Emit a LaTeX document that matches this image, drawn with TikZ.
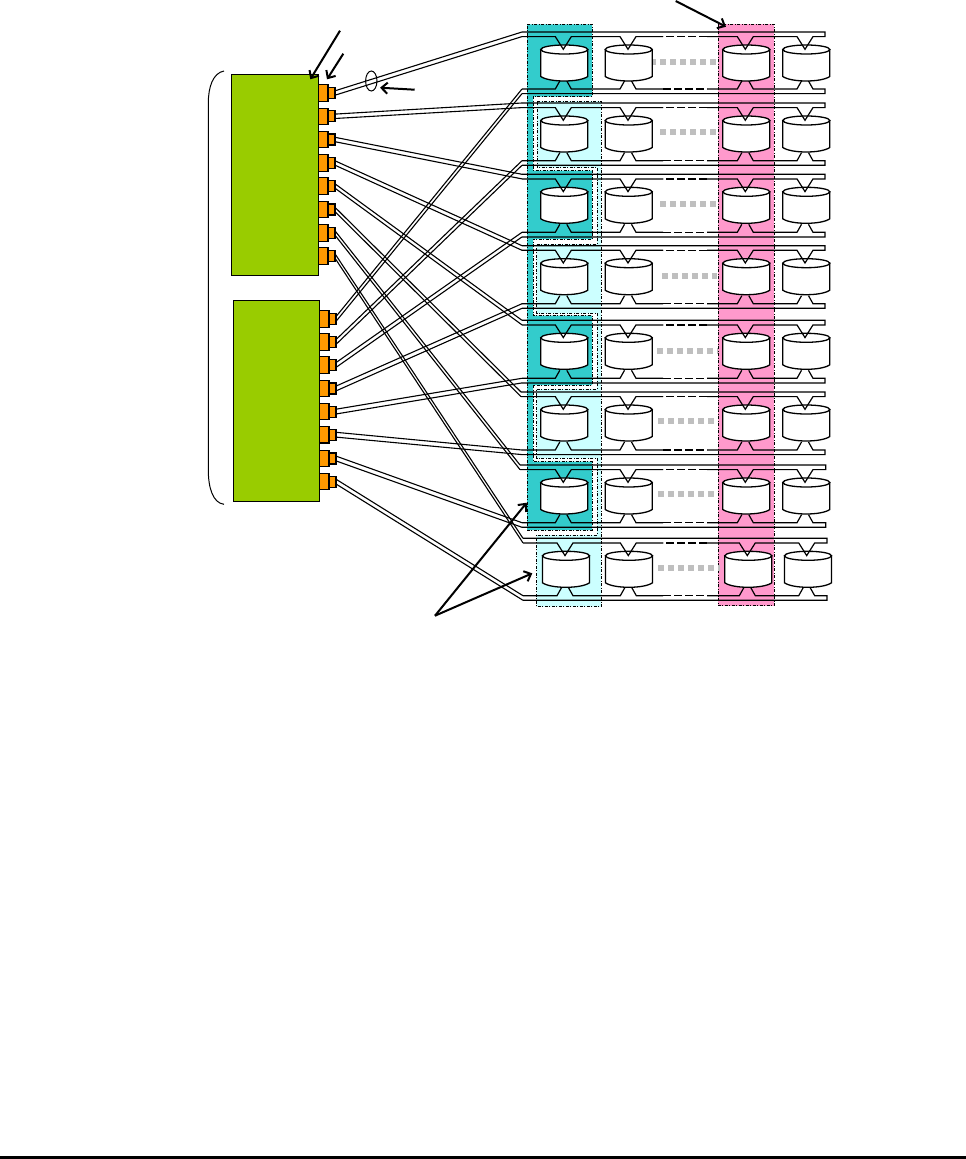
\documentclass[tikz,border=0pt]{standalone}
\usetikzlibrary{arrows.meta}
\definecolor{ctlgreen}{HTML}{99CC00}
\definecolor{portorange}{HTML}{FF9900}
\definecolor{tealcol}{HTML}{33CCCC}
\definecolor{palecyan}{HTML}{CCFFFF}
\definecolor{pinkcol}{HTML}{FF99CC}
\definecolor{dotgray}{HTML}{BFBFBF}
\tikzset{
  ctl/.style={draw=black,line width=1.1pt,fill=ctlgreen,inner sep=0pt,outer sep=0pt,anchor=north west},
  portbig/.style={draw=black,line width=1.1pt,fill=portorange,inner sep=0pt,outer sep=0pt,minimum width=9.5pt,minimum height=16.5pt,anchor=west},
  portsmall/.style={draw=black,line width=1.1pt,fill=portorange,inner sep=0pt,outer sep=0pt,minimum width=7pt,minimum height=11pt,anchor=west},
  group/.style={dash pattern=on 3pt off 1.5pt on 1pt off 1.5pt,line width=1pt,draw=black},
  wire/.style={line width=1.1pt,draw=black,line join=miter},
  buswire/.style={line width=1.2pt,draw=black,line join=miter},
  dashwire/.style={line width=1.2pt,draw=black,dash pattern=on 8pt off 3pt},
  dotbar/.style={line width=6pt,draw=dotgray,dash pattern=on 6pt off 4pt},
  disk/.style={line width=1.3pt,draw=black,fill=white},
  callout/.style={line width=2pt,draw=black,-{Straight Barb[length=6pt,width=11pt]}},
}
\newcommand{\diskat}[2]{%
  \draw[disk] (#1-23.5,#2+4.5) -- (#1-23.5,#2+31.5)
    .. controls (#1-15,#2+37.5) and (#1+15,#2+37.5) .. (#1+23.5,#2+31.5)
    -- (#1+23.5,#2+4.5) -- cycle;
  \draw[disk] (#1,#2+4.5) ellipse [x radius=23.5pt,y radius=4.5pt];
}
\newcommand{\drawrow}[9]{%
  \def\rowN{#1}\def\rT{#2}\def\rB{#3}\def\xlT{#4}\def\xlB{#5}\def\xR{#6}%
  \def\cA{#7}\def\cB{#8}\def\cC{#9}\drawrowb}
\newcommand{\drawrowb}[4]{%
  \def\cD{#1}%
  \pgfmathsetmacro{\tLow}{\rT+4.6}\pgfmathsetmacro{\tVee}{\rT+17.3}%
  \pgfmathsetmacro{\bLow}{\rB+4.6}\pgfmathsetmacro{\bCon}{\rB-8}%
  \pgfmathsetmacro{\dTop}{\rT+13}%
  \draw[dotbar] (#2,#4) -- (#3,#4);
  \diskat{\cA+1}{\dTop}\diskat{\cB+0.7}{\dTop}\diskat{\cC+1}{\dTop}\diskat{\cD+1.3}{\dTop}
  \coordinate (LT\rowN) at (\xlT,\rT);
  \coordinate (LTb\rowN) at (\xlT,\tLow);
  \coordinate (LB\rowN) at (\xlB,\rB);
  \coordinate (LBb\rowN) at (\xlB,\bLow);
  \draw[buswire] (LT\rowN) -- (\xR,\rT) -- (\xR,\tLow)
    -- (\cD+8,\tLow) -- (\cD,\tVee) -- (\cD-8,\tLow)
    -- (\cC+8,\tLow) -- (\cC,\tVee) -- (\cC-8,\tLow) -- (707,\tLow);
  \draw[dashwire] (707,\tLow) -- (663,\tLow);
  \draw[buswire] (663,\tLow) -- (\cB+8,\tLow) -- (\cB,\tVee) -- (\cB-8,\tLow)
    -- (\cA+8,\tLow) -- (\cA,\tVee) -- (\cA-8,\tLow) -- (LTb\rowN);
  \draw[buswire] (LB\rowN) -- (\cA-8,\rB) -- (\cA-3.5,\bCon);
  \draw[buswire] (\cA+3.5,\bCon) -- (\cA+8,\rB) -- (\cB-8,\rB) -- (\cB-3.5,\bCon);
  \draw[buswire] (\cB+3.5,\bCon) -- (\cB+8,\rB) -- (663,\rB);
  \draw[dashwire] (663,\rB) -- (707,\rB);
  \draw[buswire] (707,\rB) -- (\cC-8,\rB) -- (\cC-3.5,\bCon);
  \draw[buswire] (\cC+3.5,\bCon) -- (\cC+8,\rB) -- (\cD-8,\rB) -- (\cD-3.5,\bCon);
  \draw[buswire] (\cD+3.5,\bCon) -- (\cD+8,\rB) -- (\xR,\rB) -- (\xR,\bLow) -- (LBb\rowN);
}
\begin{document}
\begin{tikzpicture}[x=1pt,y=-1pt]
\useasboundingbox (0,0) rectangle (966,1159);
\fill[white] (0,0) rectangle (966,1159);
% group backgrounds
\draw[group,fill=tealcol] (527,24.3) -- (592,24.3) -- (592,96.7) -- (533,96.7) -- (533,170.7)
  -- (592,170.7) -- (592,239) -- (533,239) -- (533,315.7) -- (592,315.7) -- (592,385)
  -- (533,385) -- (533,461.5) -- (592,461.5) -- (592,530) -- (527,530) -- cycle;
\draw[group,fill=palecyan] (537,101) -- (601,101) -- (601,606.7) -- (536.5,606.7) -- (536.5,535)
  -- (597,535) -- (597,458.3) -- (536.5,458.3) -- (536.5,389) -- (597,389) -- (597,313.3)
  -- (536.5,313.3) -- (536.5,244) -- (597,244) -- (597,167.7) -- (537,167.7) -- cycle;
\draw[group,fill=pinkcol] (718.3,24.3) rectangle (774.3,605.7);
% rows
\drawrow{1}{32}{89}{522}{522}{825}{563.3}{628}{745.3}{805}{650}{716}{61.7}
\drawrow{2}{103}{160.7}{522}{522}{825}{563.3}{628}{745.3}{805}{660}{716}{132.3}
\drawrow{3}{174.3}{232.3}{522}{522}{825}{563.3}{628}{745.3}{805}{660}{716}{203.7}
\drawrow{4}{245.7}{303.7}{522}{522}{825}{563.3}{628}{745.3}{805}{662}{717}{275.7}
\drawrow{5}{320.3}{378.3}{522}{522}{825}{563.3}{628}{745.3}{805}{657}{718}{350.7}
\drawrow{6}{392}{450}{521}{522}{825}{563.3}{628}{745.3}{805}{658}{716}{421.3}
\drawrow{7}{465}{522.7}{520}{522}{825.7}{563.3}{628}{745.3}{805}{658}{714}{494.3}
\drawrow{8}{538.3}{595.7}{523}{523}{827}{565}{628.3}{747.3}{806.7}{658}{720}{567.7}
% controllers
\node[ctl,minimum width=86.8pt,minimum height=201pt] (ctlA) at (231.5,74.3) {};
\node[ctl,minimum width=86pt,minimum height=201pt] (ctlB) at (233.3,300.3) {};
% ports and cables
\foreach \i/\y in {1/93,2/116.3,3/139.5,4/163,5/186,6/209.5,7/233,8/256}{
  \node[portbig] (pA\i) at (318.5,\y) {};
  \node[portsmall] (qA\i) at (pA\i.east) {};
  \coordinate (uA\i) at ([yshift=2.2pt]qA\i.east);
  \coordinate (dA\i) at ([yshift=-2.2pt]qA\i.east);
  \draw[wire] (uA\i) -- (LT\i);
  \draw[wire] (dA\i) -- (LTb\i);
}
\foreach \i/\y in {1/319,2/342,3/365,4/388.5,5/411.6,6/434.7,7/458.5,8/481.6}{
  \node[portbig] (pB\i) at (319.5,\y) {};
  \node[portsmall] (qB\i) at (pB\i.east) {};
  \coordinate (uB\i) at ([yshift=2.4pt]qB\i.east);
  \coordinate (dB\i) at ([yshift=-2.4pt]qB\i.east);
  \draw[wire] (uB\i) -- (LB\i);
  \draw[wire] (dB\i) -- (LBb\i);
}
% brace
\coordinate (braceT) at (224,71);
\coordinate (braceB) at (224,504.3);
\draw[line width=1pt] (braceT) .. controls (213,73) and (208.3,87) .. (208.3,103) -- (208.3,470)
  .. controls (208.3,488) and (213,503) .. (braceB);
% ellipse and callouts
\draw[line width=1pt] (371.3,81) ellipse [x radius=5.7pt,y radius=10pt];
\coordinate (tipA) at (310.3,79.3);
\coordinate (tipB) at (327,79.3);
\coordinate (tipC) at (380,87.7);
\coordinate (tipD) at (726,26.7);
\coordinate (tipE) at (526.7,502.7);
\coordinate (tipF) at (532.3,573.3);
\coordinate (fan) at (435,615.7);
\draw[callout] (340,30.7) -- (tipA);
\draw[callout] (343.3,53.7) -- (tipB);
\draw[callout] (414.7,89.7) -- (tipC);
\draw[callout] (675.7,1) -- (tipD);
\draw[callout] (fan) -- (tipE);
\draw[callout] (fan) -- (tipF);
% bottom rule
\fill[black] (0,1156) rectangle (966,1159);
\end{tikzpicture}
\end{document}
